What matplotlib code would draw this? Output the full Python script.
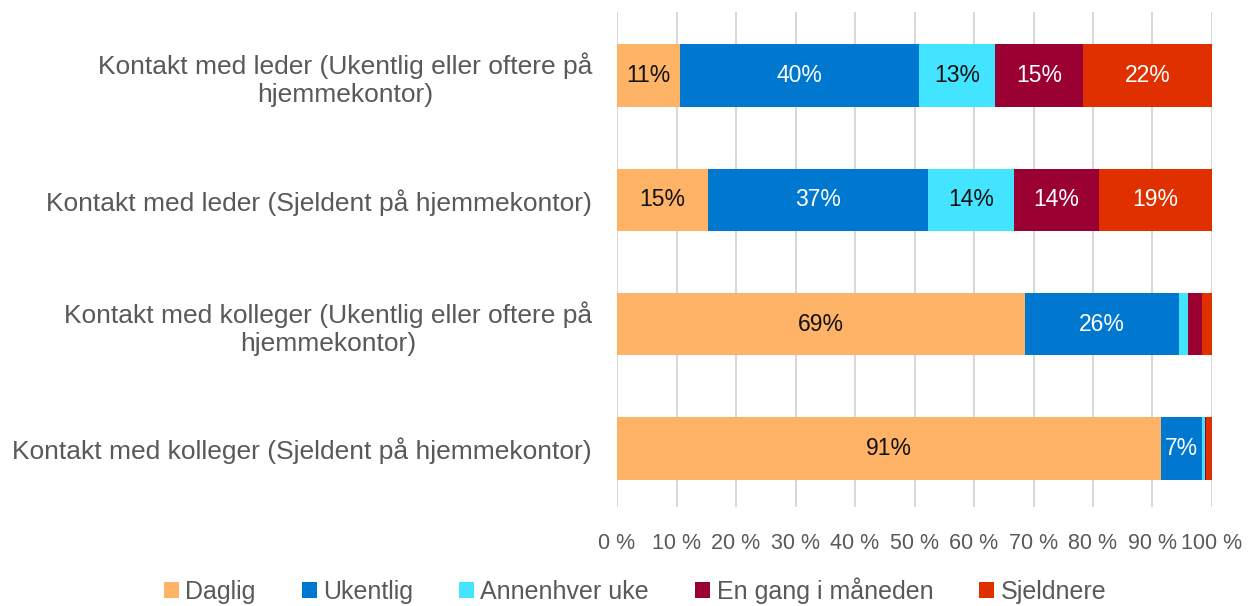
import matplotlib.pyplot as plt
import numpy as np

categories = [
    "Kontakt med leder (Ukentlig eller oftere på\nhjemmekontor)",
    "Kontakt med leder (Sjeldent på hjemmekontor)",
    "Kontakt med kolleger (Ukentlig eller oftere på\nhjemmekontor)",
    "Kontakt med kolleger (Sjeldent på hjemmekontor)",
]
series = ["Daglig", "Ukentlig", "Annenhver uke", "En gang i måneden", "Sjeldnere"]
daglig = [10.6, 15.3, 68.6, 91.4]
ukentlig = [40.1, 37.0, 25.9, 6.9]
annenhver = [12.9, 14.4, 1.5, 0.5]
en_gang = [14.8, 14.3, 2.4, 0.2]
sjeldnere = [21.6, 19.0, 1.6, 1.0]

colors = ["#FFB366", "#0078CF", "#42E4FF", "#9A0032", "#E03000"]
text_colors = ["#111111", "white", "#111111", "white", "white"]

plt.rcParams["font.family"] = ["Liberation Sans", "DejaVu Sans"]

fig = plt.figure(figsize=(12.6, 6.06), dpi=100)
ax = fig.add_axes([0.4897, 0.1634, 0.4722, 0.8168])

y = np.arange(len(categories))
left = np.zeros(len(categories))
for name, vals, col, tcol in zip(series, [daglig, ukentlig, annenhver, en_gang, sjeldnere],
                                 colors, text_colors):
    vals = np.array(vals)
    ax.barh(y, vals, left=left, height=0.5, color=col, label=name, zorder=3)
    for yi, l, v in zip(y, left, vals):
        if v >= 5:
            ax.text(l + v / 2, yi, f"{v:.0f}%", ha="center", va="center",
                    fontsize=16.5, color=tcol, zorder=4)
    left += vals

ax.set_xlim(0, 100)
ax.set_ylim(3.47, -0.51)
ax.set_xticks(np.arange(0, 101, 10))
ax.set_xticklabels([f"{t} %" for t in range(0, 101, 10)])
ax.set_yticks(y)
ax.set_yticklabels(categories, fontsize=19)
for lab in ax.get_yticklabels():
    lab.set_multialignment("center")
ax.tick_params(axis="both", length=0, labelcolor="#595959")
ax.tick_params(axis="x", labelsize=15.5, pad=19)
ax.tick_params(axis="y", pad=18)
ax.grid(axis="x", color="#D9D9D9", lw=1.5, zorder=0)
for s in ax.spines.values():
    s.set_visible(False)

fig.legend(loc="center", bbox_to_anchor=(0.504, 0.026), ncol=5, frameon=False,
           fontsize=18, handlelength=0.6, handleheight=0.6, handletextpad=0.25,
           columnspacing=1.85, labelcolor="#595959")

fig.savefig("out.png", dpi=100, facecolor="white")
